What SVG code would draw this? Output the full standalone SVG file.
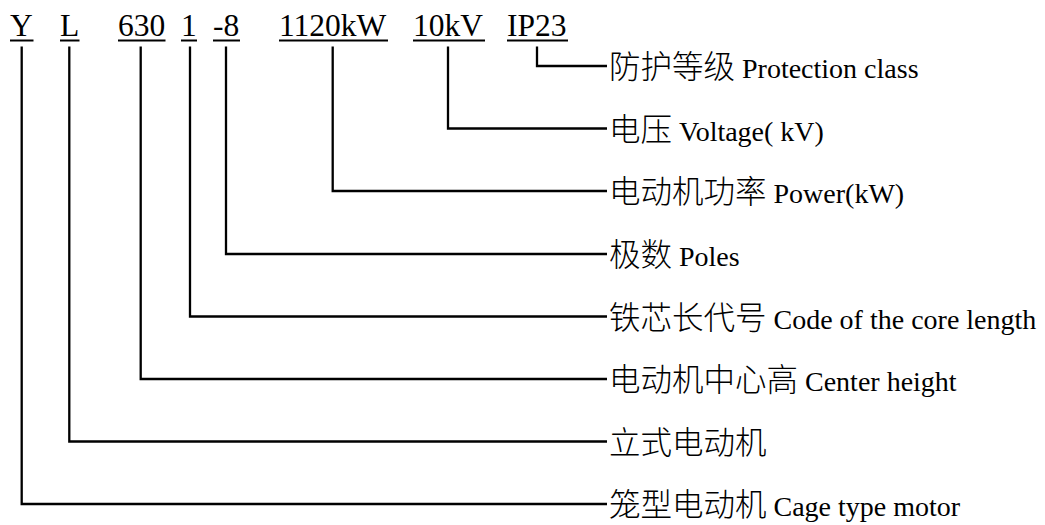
<svg xmlns="http://www.w3.org/2000/svg" width="1045" height="525" viewBox="0 0 1045 525">
<style>
.code{font-family:"Liberation Serif","Times New Roman",serif;font-size:31.5px;fill:#000}
.ul{stroke:#000;stroke-width:2}
.lbl{font-family:"Liberation Serif","Noto Sans CJK SC",serif;font-size:28px;fill:#000}
.cjk{font-family:"Noto Sans CJK SC","Noto Sans CJK JP",sans-serif;font-size:31.5px;font-weight:300}
.conn{fill:none;stroke:#000;stroke-width:2.3}
</style>
<rect width="1045" height="525" fill="#fff"/>
<g id="code-Y"><text class="code" x="10" y="36">Y</text><line class="ul" x1="10" y1="40.5" x2="33.5" y2="40.5"/></g>
<g id="code-L"><text class="code" x="60" y="36">L</text><line class="ul" x1="60" y1="40.5" x2="79.5" y2="40.5"/></g>
<g id="code-630"><text class="code" x="118" y="36">630</text><line class="ul" x1="118" y1="40.5" x2="165.5" y2="40.5"/></g>
<g id="code-1"><text class="code" x="181" y="36">1</text><line class="ul" x1="181" y1="40.5" x2="197" y2="40.5"/></g>
<g id="code-8"><text class="code" x="213" y="36">-8</text><line class="ul" x1="213" y1="40.5" x2="240" y2="40.5"/></g>
<g id="code-1120kW"><text class="code" x="279" y="36">1120kW</text><line class="ul" x1="279" y1="40.5" x2="388" y2="40.5"/></g>
<g id="code-10kV"><text class="code" x="413" y="36">10kV</text><line class="ul" x1="413" y1="40.5" x2="485" y2="40.5"/></g>
<g id="code-IP23"><text class="code" x="507" y="36">IP23</text><line class="ul" x1="507" y1="40.5" x2="568" y2="40.5"/></g>

<g id="connectors">
<path class="conn" d="M537 46.5V66H607"/>
<path class="conn" d="M448 46.5V128.5H607"/>
<path class="conn" d="M332.7 46.5V191H607"/>
<path class="conn" d="M226 46.5V254H607"/>
<path class="conn" d="M190 46.5V316.5H607"/>
<path class="conn" d="M140.7 46.5V379H607"/>
<path class="conn" d="M69.3 46.5V441.5H607"/>
<path class="conn" d="M21.7 46.5V504H607"/>
</g>

<g id="label-protection"><text class="lbl" x="609" y="78"><tspan class="cjk">防护等级</tspan> Protection class</text></g>
<g id="label-voltage"><text class="lbl" x="609" y="140.5"><tspan class="cjk">电压</tspan> Voltage( kV)</text></g>
<g id="label-power"><text class="lbl" x="609" y="203"><tspan class="cjk">电动机功率</tspan> Power(kW)</text></g>
<g id="label-poles"><text class="lbl" x="609" y="266"><tspan class="cjk">极数</tspan> Poles</text></g>
<g id="label-core"><text class="lbl" x="609" y="328.5"><tspan class="cjk">铁芯长代号</tspan> Code of the core length</text></g>
<g id="label-center"><text class="lbl" x="609" y="391"><tspan class="cjk">电动机中心高</tspan> Center height</text></g>
<g id="label-vertical"><text class="lbl" x="609" y="453.5"><tspan class="cjk">立式电动机</tspan></text></g>
<g id="label-cage"><text class="lbl" x="609" y="516"><tspan class="cjk">笼型电动机</tspan> Cage type motor</text></g>
</svg>
